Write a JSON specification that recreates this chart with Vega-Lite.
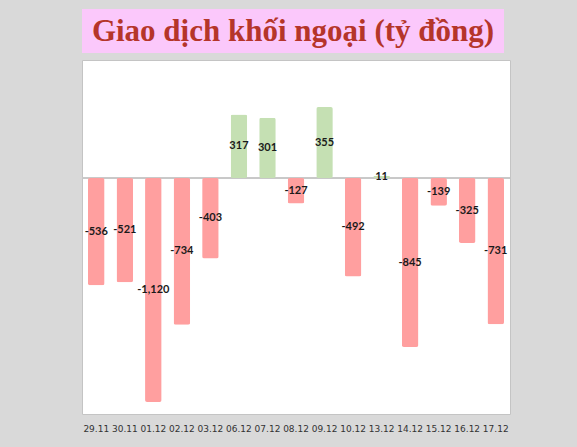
{
  "$schema": "https://vega.github.io/schema/vega-lite/v6.json",
  "background": "#d9d9d9",
  "padding": {"left": 81, "top": 9, "right": 67, "bottom": 13},
  "spacing": 6,
  "config": {
    "locale": {
      "number": {"decimal": ".", "thousands": ",", "grouping": [3], "currency": ["$", ""], "minus": "-"}
    }
  },
  "datasets": {
    "trades": [
      {"day": "29.11", "value": -536},
      {"day": "30.11", "value": -521},
      {"day": "01.12", "value": -1120},
      {"day": "02.12", "value": -734},
      {"day": "03.12", "value": -403},
      {"day": "06.12", "value": 317},
      {"day": "07.12", "value": 301},
      {"day": "08.12", "value": -127},
      {"day": "09.12", "value": 355},
      {"day": "10.12", "value": -492},
      {"day": "13.12", "value": 11},
      {"day": "14.12", "value": -845},
      {"day": "15.12", "value": -139},
      {"day": "16.12", "value": -325},
      {"day": "17.12", "value": -731}
    ]
  },
  "vconcat": [
    {
      "width": 422,
      "height": 44,
      "data": {"values": [{"title": "Giao dịch khối ngoại (tỷ đồng)"}]},
      "view": {"fill": "#fbc8fb", "stroke": null},
      "mark": {
        "type": "text",
        "font": "Liberation Serif",
        "fontWeight": "bold",
        "fontSize": 31,
        "color": "#b5352a",
        "baseline": "middle",
        "dy": 1
      },
      "encoding": {
        "text": {"field": "title", "type": "nominal"}
      }
    },
    {
      "width": 428,
      "height": 354,
      "data": {"name": "trades"},
      "view": {"fill": "#ffffff", "stroke": "#c4c4c4"},
      "encoding": {
        "x": {
          "field": "day",
          "type": "ordinal",
          "sort": null,
          "title": null,
          "scale": {"paddingInner": 0.42, "paddingOuter": 0.21},
          "axis": {
            "domain": false,
            "ticks": false,
            "labelAngle": 0,
            "labelFont": "DejaVu Sans",
            "labelFontSize": 9,
            "labelColor": "#333333",
            "labelPadding": 10
          }
        }
      },
      "resolve": {"scale": {"y": "independent"}},
      "layer": [
        {
          "layer": [
            {
              "mark": {"type": "rule", "color": "#c8c8c8", "strokeWidth": 1},
              "encoding": {
                "x": null,
                "y": {"datum": 0, "type": "quantitative", "scale": {"domain": [-1180, 590], "nice": false}, "axis": null}
              }
            },
            {
              "mark": {"type": "bar", "cornerRadius": 2},
              "encoding": {
                "y": {
                  "field": "value",
                  "type": "quantitative",
                  "scale": {"domain": [-1180, 590], "nice": false, "zero": true},
                  "axis": null
                },
                "color": {
                  "condition": {"test": "datum.value < 0", "value": "#ff9f9f"},
                  "value": "#c5e0b3"
                }
              }
            }
          ]
        },
        {
          "mark": {
            "type": "text",
            "font": "Lato",
            "fontWeight": "bold",
            "fontSize": 11,
            "color": "#1a1a1a",
            "baseline": "middle"
          },
          "encoding": {
            "y": {
              "field": "value",
              "type": "quantitative",
              "scale": {"domain": [-2360, 1180], "nice": false, "zero": false},
              "axis": null
            },
            "text": {"field": "value", "type": "quantitative", "format": ","}
          }
        }
      ]
    }
  ]
}
